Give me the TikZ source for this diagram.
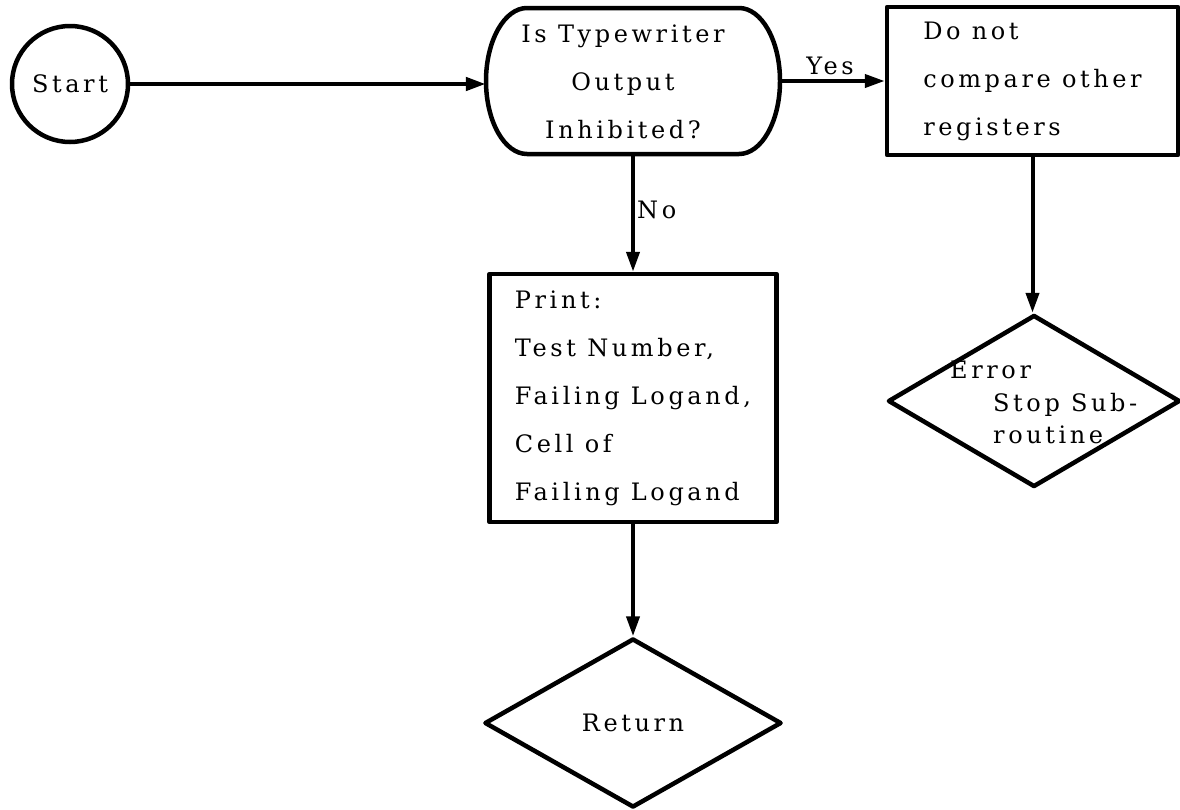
\documentclass[tikz,border=0pt]{standalone}
\usepackage{fontspec}
\newfontfamily\twfont{DejaVu Serif}[LetterSpace=15]
\usetikzlibrary{arrows.meta,shapes.geometric}
\begin{document}
\begin{tikzpicture}[x=1pt,y=-1pt,
  every node/.style={font=\twfont\fontsize{24}{48}\selectfont, inner sep=0pt},
  shapeline/.style={line width=4.5pt, line join=round},
  conn/.style={line width=4pt, -{Triangle[length=20pt,width=13pt]}},
  boxnode/.style={draw, shapeline, rectangle, align=left}]
\useasboundingbox (0,0) rectangle (1180,809);
% start
\node[circle, draw, shapeline, minimum size=116pt] (start) at (70,84) {Start};
% terminal-like decision
\node[minimum width=294pt, minimum height=146pt] (q) at (633,81) {};
\draw[shapeline] (527,8) -- (739,8)
  .. controls (761.6,8) and (780,40.7) .. (780,81)
  .. controls (780,121.3) and (761.6,154) .. (739,154)
  -- (527,154)
  .. controls (504.4,154) and (486,121.3) .. (486,81)
  .. controls (486,40.7) and (504.4,8) .. (527,8) -- cycle;
\node[align=center] (qt) at (623,82) {Is Typewriter\\Output\\Inhibited?};
% boxes
\node[boxnode, minimum width=291pt, minimum height=148pt] (dn) at (1032.5,81) {Do not\\compare other\\registers};
\node[boxnode, minimum width=287pt, minimum height=248pt] (pb) at (633,398) {Print:\\Test Number,\\Failing Logand,\\Cell of\\Failing Logand};
% error diamond
\node[diamond, draw, shapeline, minimum width=292pt, minimum height=172pt] (err) at (1034,401) {};
\node[anchor=base west] (e1) at (950,378) {Error};
\node[anchor=base west] (e2) at (993,411) {Stop Sub-};
\node[anchor=base west] (e3) at (993,443) {routine};
% return diamond
\node[diamond, draw, shapeline, minimum width=297pt, minimum height=169pt] (ret) at (633,723) {Return};
% labels
\node (yes) at (830,66) {Yes};
\node[anchor=west] (no) at (637,210) {No};
% connectors
\draw[conn, line width=4.5pt] (start.east) -- (start.east -| q.west);
\draw[conn] (q.east) -- (q.east -| dn.west);
\draw[conn] (q.south) -- (pb.north);
\draw[conn] (pb.south) -- (ret.north);
\draw[conn] (dn.south) -- (dn.south |- err.north);
\end{tikzpicture}
\end{document}
